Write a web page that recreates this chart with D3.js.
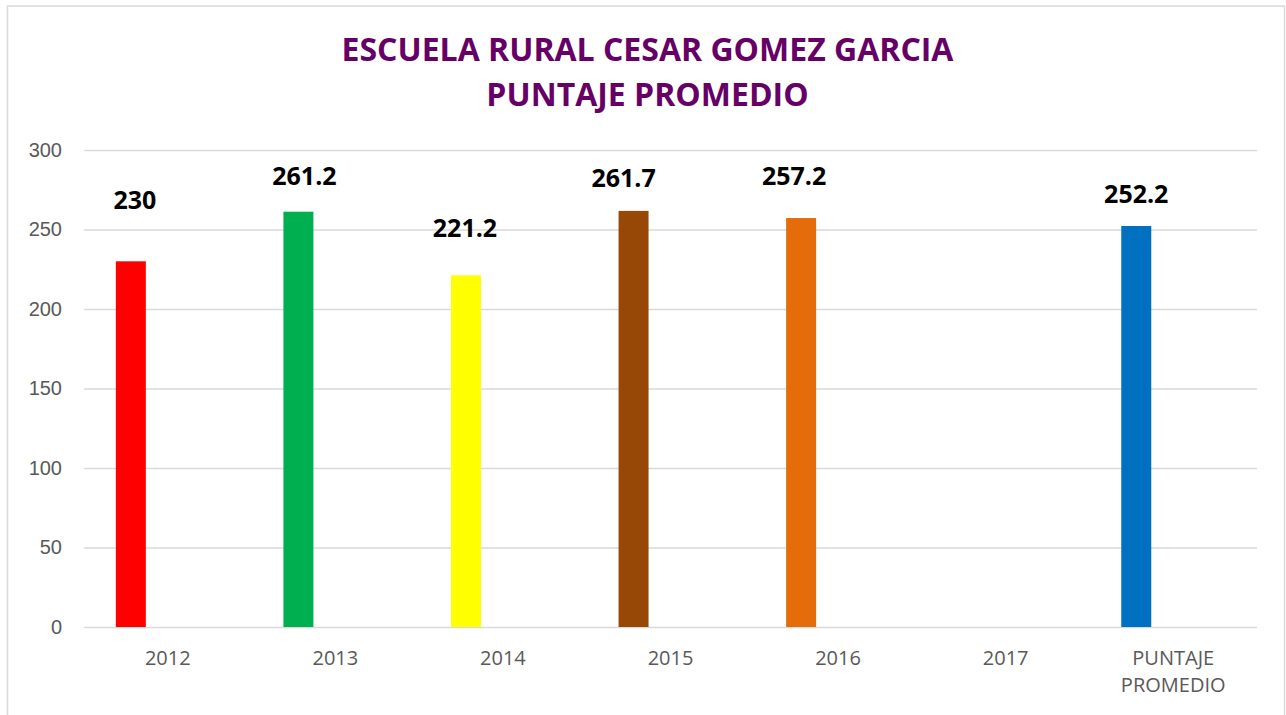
<!DOCTYPE html>
<html>
<head>
<meta charset="utf-8">
<title>Escuela Rural Cesar Gomez Garcia - Puntaje Promedio</title>
<script src="https://d3js.org/d3.v7.min.js"></script>
<style>
  body { margin: 0; background: #fff; }
  svg { display: block; font-family: "Open Sans", "DejaVu Sans", sans-serif; }
</style>
</head>
<body>
<div id="chart"></div>
<script>
// data
const categories = ["2012", "2013", "2014", "2015", "2016", "2017", "PUNTAJE PROMEDIO"];
const scores = [230, 261.2, 221.2, 261.7, 257.2, null, 252.2];
const barColors = ["#ff0000", "#00b050", "#ffff00", "#974806", "#e46c0a", "#7f7f7f", "#0070c0"];
const yTicks = [0, 50, 100, 150, 200, 250, 300];
const titleLines = ["ESCUELA RURAL CESAR GOMEZ GARCIA", "PUNTAJE PROMEDIO"];
// labels were dragged by hand in the original, these are the nudges [dx, dy]
const labelNudge = [[4, -52], [6, -27], [-1, -38], [-10, -24], [-7, -33], [0, -25], [0, -23]];

const width = 1286, height = 715;
const margin = { top: 150, right: 29, bottom: 88, left: 84 };

const svg = d3.select("#chart")
    .append("svg")
    .attr("width", width)
    .attr("height", height);

// outer chart frame
svg.append("rect")
    .attr("x", 7.5).attr("y", 6)
    .attr("width", 1277).attr("height", height + 20)
    .attr("fill", "#fff")
    .attr("stroke", "#d9d9d9")
    .attr("stroke-width", 1.5);

const x = d3.scaleBand()
    .domain(categories)
    .range([margin.left, width - margin.right])
    .padding(0);

const y = d3.scaleLinear()
    .domain([0, 300])
    .range([height - margin.bottom, margin.top]);

// bars sit left of the category centre, like the first slot of a cluster
const barW = x.bandwidth() * 0.179;
const barX = c => x(c) + x.bandwidth() * 0.19;

// gridlines + y labels
const yAxis = svg.append("g")
    .attr("transform", `translate(${margin.left},0)`)
    .call(d3.axisLeft(y)
        .tickValues(yTicks)
        .tickSize(-(width - margin.right - margin.left))
        .tickPadding(22));
yAxis.select(".domain").remove();
yAxis.selectAll("line").attr("stroke", "#d9d9d9").attr("stroke-width", 1.5);
yAxis.selectAll("text")
    .attr("fill", "#595959")
    .style("font-size", "20px");

// bars
const rows = categories.map((c, i) => ({ cat: c, v: scores[i], color: barColors[i], nudge: labelNudge[i] }))
    .filter(d => d.v != null);

svg.selectAll(".bar")
    .data(rows)
    .join("rect")
    .attr("class", "bar")
    .attr("x", d => barX(d.cat))
    .attr("y", d => y(d.v))
    .attr("width", barW)
    .attr("height", d => y(0) - y(d.v))
    .attr("fill", d => d.color);

// value labels
svg.selectAll(".val")
    .data(rows)
    .join("text")
    .attr("class", "val")
    .attr("x", d => barX(d.cat) + barW / 2 + d.nudge[0])
    .attr("y", d => y(d.v) + d.nudge[1])
    .attr("text-anchor", "middle")
    .style("font-size", "25px")
    .style("font-weight", "bold")
    .attr("fill", "#000")
    .text(d => d3.format("~f")(d.v));

// x labels (wrap the long one onto two lines)
const xl = svg.selectAll(".xlab")
    .data(categories)
    .join("text")
    .attr("class", "xlab")
    .attr("text-anchor", "middle")
    .attr("fill", "#595959")
    .style("font-size", "20px");
xl.each(function(c) {
    const words = c.split(" ");
    d3.select(this).selectAll("tspan")
        .data(words)
        .join("tspan")
        .attr("x", x(c) + x.bandwidth() / 2)
        .attr("y", (w, i) => y(0) + 38 + i * 27)
        .text(w => w);
});

// title
svg.selectAll(".title")
    .data(titleLines)
    .join("text")
    .attr("class", "title")
    .attr("x", 647.5)
    .attr("y", (d, i) => 61 + i * 45)
    .attr("text-anchor", "middle")
    .attr("fill", "#660066")
    .style("font-size", "32px")
    .style("font-weight", "bold")
    .text(d => d);
</script>
</body>
</html>
